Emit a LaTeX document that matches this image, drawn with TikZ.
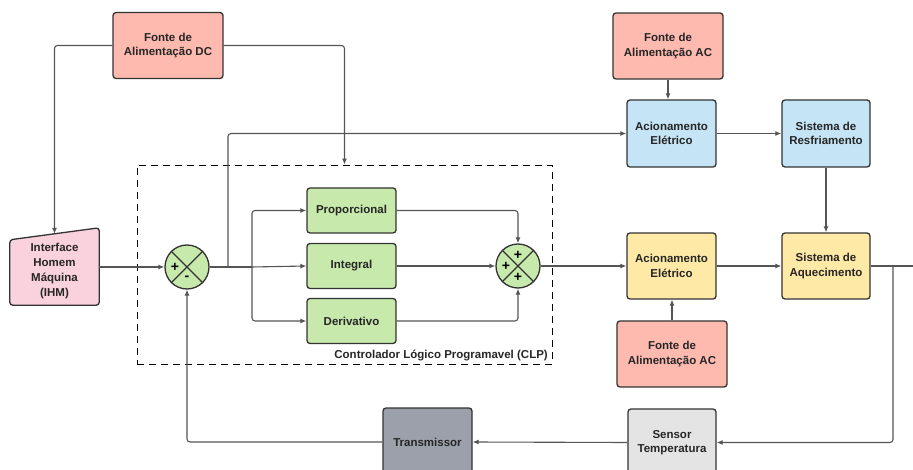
\documentclass[tikz,border=0pt]{standalone}
\usepackage{fontspec}
\setmainfont{Liberation Sans}
\usepackage{xcolor}
\usepackage{tikz}
\definecolor{sourcered}{RGB}{255, 186, 176}
\definecolor{pidgreen}{RGB}{199, 233, 171}
\definecolor{coolblue}{RGB}{197, 228, 245}
\definecolor{heatyellow}{RGB}{255, 233, 166}
\definecolor{ihmpink}{RGB}{250, 210, 222}
\definecolor{sensorgray}{RGB}{228, 228, 228}
\definecolor{transgray}{RGB}{155, 160, 170}
\definecolor{edgegray}{RGB}{51, 51, 51}
\definecolor{wiregray}{RGB}{85, 85, 85}
\usetikzlibrary{shapes, arrows.meta, positioning, calc, backgrounds}

\begin{document}
\begin{tikzpicture}[
    x=1pt, y=-1pt,
    block/.style={draw=edgegray, line width=1.3pt, rounded corners=3pt, align=center, inner sep=2pt, font=\fontsize{11.5}{14.4}\selectfont\bfseries, text=black!85},
    source/.style={block, fill=sourcered, minimum width=110pt, minimum height=66pt},
    unit/.style={block, minimum width=89pt, minimum height=67pt},
    gain/.style={block, fill=pidgreen, minimum width=89pt, minimum height=45pt},
    summer/.style={circle, draw=edgegray, line width=1.3pt, fill=pidgreen, minimum size=44pt, inner sep=0pt},
    sign/.style={font=\fontsize{14}{14}\selectfont\bfseries, inner sep=0pt},
    wire/.style={draw=wiregray, line width=1.1pt, rounded corners=3pt},
    arrow/.style={wire, -{Latex[length=6pt, width=5pt]}}
]
    \useasboundingbox (0,0) rectangle (913,470);

    % CLP (dashed frame)
    \node[draw=black, dashed, dash pattern=on 7pt off 5pt, line width=0.8pt, minimum width=415pt, minimum height=199pt] (clp) at (344.5, 264.5) {};
    \node[anchor=east, font=\fontsize{11.5}{14}\selectfont\bfseries, text=black!85, inner sep=0pt] (clplabel) at (548, 356) {Controlador Lógico Programavel (CLP)};

    % Power supplies
    \node[source] (dcsrc) at (168, 45.5) {Fonte de\\Alimentação DC};
    \node[source] (acsrcA) at (668, 46) {Fonte de\\Alimentação AC};
    \node[source] (acsrcB) at (672, 354) {Fonte de\\Alimentação AC};

    % IHM (manual input shape)
    \node[align=center, font=\fontsize{11.5}{15.3}\selectfont\bfseries, text=black!85, minimum width=89pt, minimum height=68pt, inner sep=0pt] (ihm) at (54.5, 271) {Interface\\Homem\\Máquina\\(IHM)};
    \begin{scope}[on background layer]
        \draw[draw=edgegray, line width=1.3pt, fill=ihmpink, rounded corners=3pt] ($(ihm.north west)+(0,3)$) -- ($(ihm.north east)+(0,-9)$) -- (ihm.south east) -- (ihm.south west) -- cycle;
    \end{scope}
    \coordinate (ihmtop) at ($(ihm.north)+(0,-3)$);

    % Summing junctions
    \node[summer] (sumA) at (187, 267) {};
    \draw[edgegray, line width=1.3pt] (sumA.north west) -- (sumA.south east) (sumA.north east) -- (sumA.south west);
    \node[sign] at ($(sumA.center)+(-12,0)$) {+};
    \node[sign] at ($(sumA.center)+(0,11)$) {-};

    \node[summer] (sumB) at (518, 266) {};
    \draw[edgegray, line width=1.3pt] (sumB.north west) -- (sumB.south east) (sumB.north east) -- (sumB.south west);
    \node[sign] at ($(sumB.center)+(-12,0)$) {+};
    \node[sign] at ($(sumB.center)+(0,-11)$) {+};
    \node[sign] at ($(sumB.center)+(0,11)$) {+};

    % PID terms
    \node[gain] (prop) at (351.5, 210.5) {Proporcional};
    \node[gain] (integ) at (351.5, 266) {Integral};
    \node[gain] (deriv) at (351.5, 321) {Derivativo};

    % Cooling branch
    \node[unit, fill=coolblue] (acionA) at (671.5, 133.5) {Acionamento\\Elétrico};
    \node[unit, fill=coolblue, minimum width=88pt] (resfr) at (826, 133.5) {Sistema de\\Resfriamento};

    % Heating branch
    \node[unit, fill=heatyellow, minimum height=66pt] (acionB) at (671.5, 266) {Acionamento\\Elétrico};
    \node[unit, fill=heatyellow, minimum width=88pt, minimum height=66pt] (aquec) at (826, 266) {Sistema de\\Aquecimento};

    % Measurement
    \node[unit, fill=sensorgray, minimum width=88pt] (sensor) at (672, 442.5) {Sensor\\Temperatura};
    \node[unit, fill=transgray, minimum height=68pt] (trans) at (427.5, 442) {Transmissor};

    % Branch points
    \coordinate (tapA) at (228, 267);
    \coordinate (split) at (252, 267);
    \coordinate (tapB) at (893, 266);
    \coordinate (outR) at (913, 266);

    % Connections
    \draw[arrow] (dcsrc.west) -| (ihmtop);
    \draw[arrow] (dcsrc.east) -| (clp.north);
    \draw[arrow] (ihm.east |- sumA.west) -- (sumA.west);
    \draw[wire] (sumA.east) -- (split);
    \draw[arrow] (tapA) |- (acionA.west);
    \draw[arrow] (split) |- (prop.west);
    \draw[arrow] (split) -- (integ.west);
    \draw[arrow] (split) |- (deriv.west);
    \draw[arrow] (prop.east) -| (sumB.north);
    \draw[arrow] (integ.east) -- (sumB.west);
    \draw[arrow] (deriv.east) -| (sumB.south);
    \draw[arrow] (sumB.east) -- (acionB.west);
    \draw[arrow] (acsrcA.south) -- (acsrcA.south |- acionA.north);
    \draw[arrow] (acionA.east) -- (resfr.west);
    \draw[arrow] (resfr.south) -- (aquec.north);
    \draw[arrow] (acsrcB.north) -- (acsrcB.north |- acionB.south);
    \draw[arrow] (acionB.east) -- (aquec.west);
    \draw[wire] (aquec.east) -- (outR);
    \draw[arrow] (tapB) |- (sensor.east);
    \draw[arrow] (sensor.west) -- (trans.east);
    \draw[arrow] (trans.west) -| (sumA.south);
\end{tikzpicture}
\end{document}
